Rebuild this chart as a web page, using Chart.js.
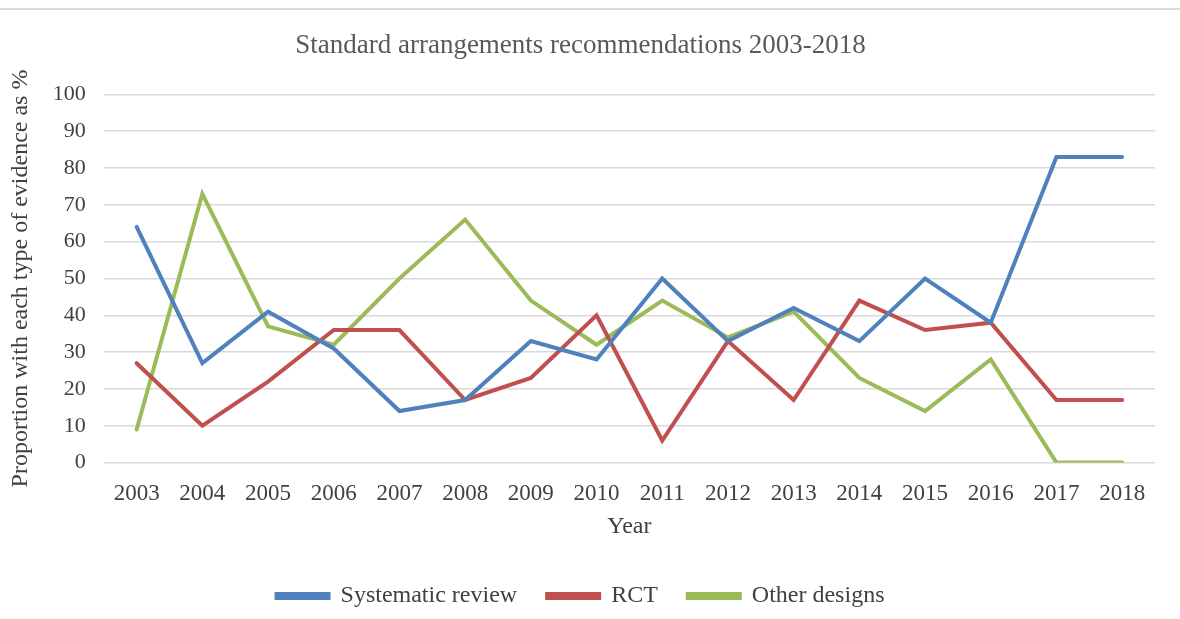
<!DOCTYPE html>
<html>
<head>
<meta charset="utf-8">
<script src="https://cdn.jsdelivr.net/npm/chart.js"></script>
<style>
  html, body { margin: 0; padding: 0; background: #fff; }
  #wrap { position: relative; width: 1180px; height: 619px; }
  #topline { position: absolute; left: 0; top: 8px; width: 1180px; height: 2px; background: #d9d9d9; }
  canvas { position: absolute; left: 0; top: 0; }
</style>
</head>
<body>
<div id="wrap">
  <div id="topline"></div>
  <canvas id="grafica" width="1180" height="619"></canvas>
</div>
<script>
// Años y series (lectura aproximada del gráfico original)
const years = ["2003", "2004", "2005", "2006", "2007", "2008", "2009", "2010",
               "2011", "2012", "2013", "2014", "2015", "2016", "2017", "2018"];
const systematicReview = [64, 27, 41, 31, 14, 17, 33, 28, 50, 33, 42, 33, 50, 38, 83, 83];
const rct = [27, 10, 22, 36, 36, 17, 23, 40, 6, 33, 17, 44, 36, 38, 17, 17];
const otherDesigns = [9, 73, 37, 32, 50, 66, 44, 32, 44, 34, 41, 23, 14, 28, 0, 0];

const serif = "'Liberation Serif', 'Times New Roman', serif";
Chart.defaults.font.family = serif;
Chart.defaults.color = "#404040";

const ctx = document.getElementById("grafica").getContext("2d");

function serie(label, data, color) {
    return {
        label: label,
        data: data,
        borderColor: color,
        backgroundColor: color,
        borderWidth: 4,
        pointRadius: 0,
        tension: 0,
        borderCapStyle: "round",
        borderJoinStyle: "miter"
    };
}

new Chart(ctx, {
    type: "line",
    data: {
        labels: years,
        datasets: [
            serie("Systematic review", systematicReview, "#4F81BD"),
            serie("RCT", rct, "#C0504D"),
            serie("Other designs", otherDesigns, "#9BBB59")
        ]
    },
    options: {
        responsive: false,
        animation: false,
        layout: { padding: { left: 6, right: 25, top: 18, bottom: 1 } },
        plugins: {
            title: {
                display: true,
                text: "Standard arrangements recommendations 2003-2018",
                font: { size: 27, weight: "normal" },
                color: "#595959",
                padding: { top: 12, bottom: 32 }
            },
            legend: {
                position: "bottom",
                labels: {
                    boxWidth: 52,
                    boxHeight: 4,
                    font: { size: 24 },
                    color: "#404040",
                    padding: 30
                }
            },
            tooltip: { enabled: false }
        },
        scales: {
            x: {
                offset: true,
                grid: { display: false },
                border: { display: false },
                ticks: { font: { size: 23 }, color: "#404040", padding: 10, maxRotation: 0 },
                title: {
                    display: true,
                    text: "Year",
                    font: { size: 24 },
                    color: "#404040",
                    padding: { top: -6, bottom: 13 }
                }
            },
            y: {
                min: 0,
                max: 100,
                ticks: { stepSize: 10, font: { size: 22 }, color: "#404040", padding: 18 },
                grid: { color: "#d9d9d9", lineWidth: 1.5, drawTicks: false },
                border: { display: false },
                title: {
                    display: true,
                    text: "Proportion with each type of evidence as %",
                    font: { size: 24 },
                    color: "#404040",
                    padding: { top: 0, bottom: 0 }
                }
            }
        }
    }
});
</script>
</body>
</html>
